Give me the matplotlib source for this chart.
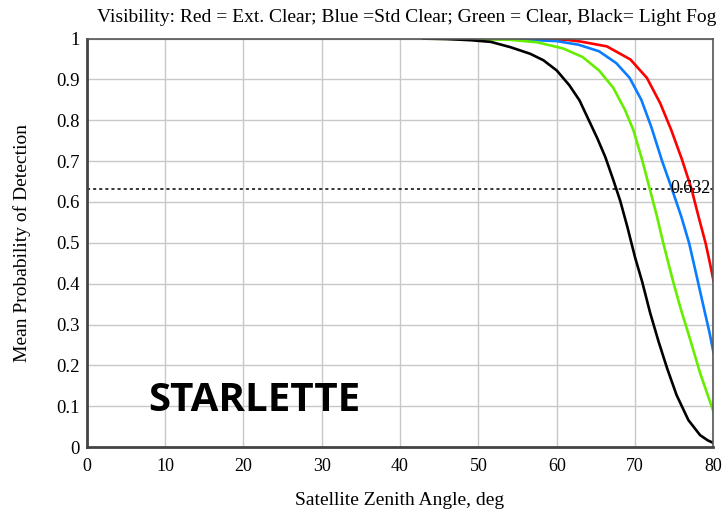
import numpy as np
import matplotlib
matplotlib.use("Agg")
import matplotlib.pyplot as plt

# curves (zenith angle deg, mean probability of detection)
red_x = [43, 55, 61.3, 63.0, 66.4, 69.4, 71.5, 73.2, 74.6, 76.0, 77.2, 78.1, 79.0, 79.5, 80]
red_y = [1.0, 0.999, 0.997, 0.993, 0.981, 0.949, 0.904, 0.842, 0.777, 0.703, 0.632, 0.564, 0.499, 0.455, 0.408]

blue_x = [43, 50, 55, 60.0, 62.8, 65.4, 67.6, 69.3, 70.8, 72.1, 73.4, 74.7, 75.9, 76.9, 77.9, 78.9, 79.5, 80]
blue_y = [1.0, 1.0, 0.998, 0.994, 0.985, 0.969, 0.940, 0.904, 0.850, 0.782, 0.703, 0.632, 0.564, 0.499, 0.415, 0.330, 0.280, 0.232]

green_x = [43, 50, 54.1, 57.5, 60.8, 63.3, 65.4, 67.2, 68.7, 69.8, 70.9, 71.9, 72.8, 73.6, 74.8, 75.8, 77.05, 78.3, 79.4, 80]
green_y = [1.0, 0.999, 0.997, 0.991, 0.976, 0.955, 0.922, 0.880, 0.826, 0.775, 0.703, 0.630, 0.564, 0.499, 0.409, 0.340, 0.262, 0.181, 0.120, 0.087]

black_x = [43, 46, 49.1, 51.6, 54.1, 56.6, 58.3, 60.0, 61.6, 62.9, 64.1, 65.2, 66.2, 67.2, 68.1, 69.0, 70.0, 70.9,
           71.9, 73.0, 74.1, 75.3, 76.8, 78.3, 79.3, 80]
black_y = [1.0, 0.999, 0.996, 0.992, 0.979, 0.963, 0.947, 0.922, 0.886, 0.849, 0.800, 0.755, 0.710, 0.655, 0.603, 0.540, 0.464, 0.405,
           0.330, 0.258, 0.192, 0.127, 0.066, 0.029, 0.016, 0.010]

threshold = 0.632
x_ticks = [0, 10, 20, 30, 40, 50, 60, 70, 80]
y_ticks = [0, 0.1, 0.2, 0.3, 0.4, 0.5, 0.6, 0.7, 0.8, 0.9, 1]
y_labels = ["0", "0.1", "0.2", "0.3", "0.4", "0.5", "0.6", "0.7", "0.8", "0.9", "1"]

plt.rcParams["font.family"] = ["Liberation Serif", "DejaVu Serif"]

fig = plt.figure(figsize=(7.28, 5.15), dpi=100)
ax = fig.add_axes([0.119, 0.132, 0.861, 0.793])

ax.plot(red_x, red_y, color="#ff0000", lw=1.9)
ax.plot(blue_x, blue_y, color="#0a7cff", lw=1.9)
ax.plot(green_x, green_y, color="#66ee00", lw=1.9)
ax.plot(black_x, black_y, color="black", lw=1.9)

ax.axhline(threshold, color="black", lw=1.1, ls=(0, (2, 2)), zorder=1)
ax.text(79.6, threshold, "0.632", ha="right", va="center", fontsize=13)

ax.set_xlim(0, 80)
ax.set_ylim(0, 1)
ax.set_xticks(x_ticks)
ax.set_yticks(y_ticks)
ax.set_yticklabels(y_labels)
ax.tick_params(axis="x", length=0, labelsize=13, pad=8)
ax.tick_params(axis="y", length=0, labelsize=13.5, pad=5)
ax.grid(color="#c8c8c8", lw=1)
ax.set_axisbelow(True)

for side in ["left", "bottom"]:
    ax.spines[side].set_linewidth(2)
    ax.spines[side].set_color("#444444")
for side in ["top", "right"]:
    ax.spines[side].set_linewidth(1.2)
    ax.spines[side].set_color("#555555")

ax.set_xlabel("Satellite Zenith Angle, deg", fontsize=14, labelpad=12)
ax.set_ylabel("Mean Probability of Detection", fontsize=14, labelpad=18)
ax.set_title("Visibility: Red = Ext. Clear; Blue =Std Clear; Green = Clear, Black= Light Fog",
             fontsize=14, pad=12, x=0.51)

ax.text(0.099, 0.115, "STARLETTE", transform=ax.transAxes, fontsize=29,
        fontweight="bold", family="Open Sans", ha="left", va="center")

fig.savefig("out.png", dpi=100)
